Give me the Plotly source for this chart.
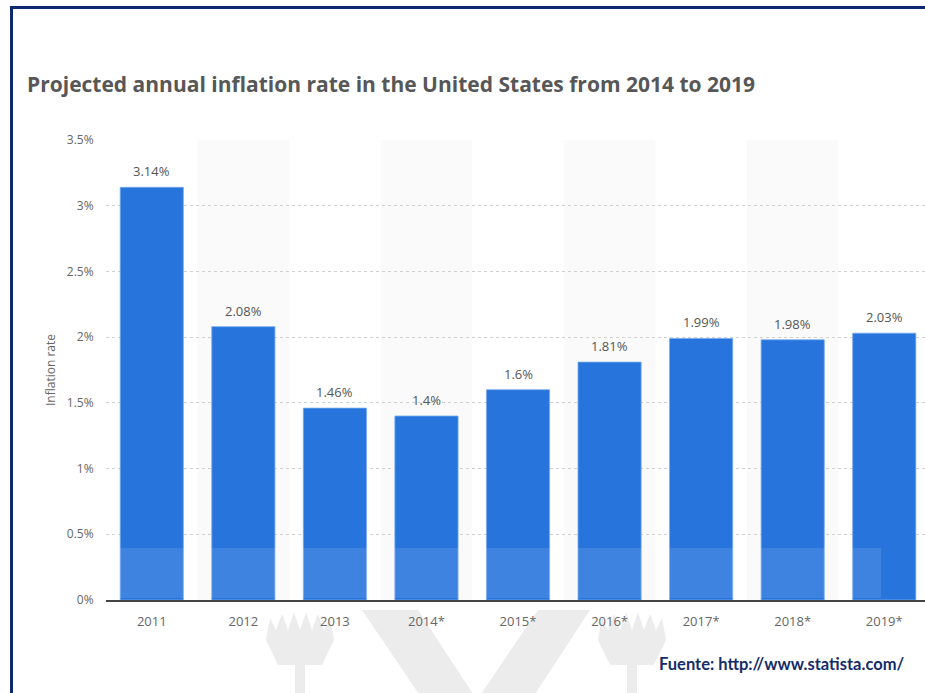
import plotly.graph_objects as go

# ---- data ----
categories = ["2011", "2012", "2013", "2014*", "2015*", "2016*", "2017*", "2018*", "2019*"]
values = [3.14, 2.08, 1.46, 1.4, 1.6, 1.81, 1.99, 1.98, 2.03]
labels = ["3.14%", "2.08%", "1.46%", "1.4%", "1.6%", "1.81%", "1.99%", "1.98%", "2.03%"]
y_ticks = [0, 0.5, 1, 1.5, 2, 2.5, 3, 3.5]
y_tick_text = ["0%", "0.5%", "1%", "1.5%", "2%", "2.5%", "3%", "3.5%"]

W, H = 925, 693
L, R, T, B = 106, 0, 140, 93
PW, PH = W - L - R, H - T - B


def px(x):
    return (x - L) / PW


def py(y):
    return (H - B - y) / PH


BAR = "#2775dc"
GREY = "#666666"

fig = go.Figure()
fig.add_trace(go.Bar(
    x=list(range(len(categories))), y=values,
    marker=dict(color=BAR, line=dict(color="rgba(120,170,240,0.8)", width=1)),
    width=0.69, hoverinfo="skip",
))

shapes = []
# alternating background bands
for i in range(len(categories)):
    if i % 2 == 1:
        shapes.append(dict(type="rect", xref="x", yref="paper", x0=i - 0.5, x1=i + 0.5,
                           y0=0, y1=1, fillcolor="#fafafa", line=dict(width=0), layer="below"))

# watermark logo (faint, below everything)
wm = "#ececec"
shapes.append(dict(type="path", xref="paper", yref="paper", layer="below",
                   path="M {} {} L {} {} L {} {} L {} {} L {} {} L {} {} L {} {} Z".format(
                       px(362), py(610), px(418), py(610), px(477), py(700), px(538), py(610),
                       px(590), py(610), px(505), py(740), px(450), py(740)),
                   fillcolor=wm, line=dict(width=0)))
for cx in (300, 632):
    # thistle head: spiky crown over a cup
    pts = [(cx - 34, 640), (cx - 30, 618), (cx - 24, 630), (cx - 18, 614), (cx - 12, 630),
           (cx - 6, 612), (cx, 630), (cx + 6, 612), (cx + 12, 630), (cx + 18, 614),
           (cx + 24, 630), (cx + 30, 618), (cx + 34, 640), (cx + 22, 665), (cx - 22, 665)]
    path = "M " + " L ".join("{} {}".format(px(a), py(b)) for a, b in pts) + " Z"
    shapes.append(dict(type="path", xref="paper", yref="paper", layer="below",
                       path=path, fillcolor=wm, line=dict(width=0)))
    shapes.append(dict(type="rect", xref="paper", yref="paper", layer="below",
                       x0=px(cx - 5), x1=px(cx + 5), y0=py(700), y1=py(665),
                       fillcolor=wm, line=dict(width=0)))

# translucent watermark overlay on bar bottoms
shapes.append(dict(type="rect", xref="paper", yref="paper", layer="above",
                   x0=px(110), x1=px(881), y0=py(598), y1=py(548),
                   fillcolor="rgba(255,255,255,0.10)", line=dict(width=0)))

# page border (navy, left and top)
shapes.append(dict(type="rect", xref="paper", yref="paper", layer="above",
                   x0=px(10), x1=px(13), y0=py(700), y1=py(6),
                   fillcolor="#0f2a6c", line=dict(width=0)))
shapes.append(dict(type="rect", xref="paper", yref="paper", layer="above",
                   x0=px(10), x1=px(930), y0=py(9), y1=py(6),
                   fillcolor="#0f2a6c", line=dict(width=0)))

annotations = []
for i, (v, t) in enumerate(zip(values, labels)):
    annotations.append(dict(x=i, y=v, xref="x", yref="y", text=t, showarrow=False,
                            yanchor="bottom", yshift=5,
                            font=dict(family="Open Sans", size=13, color="#555555")))

annotations.append(dict(x=px(25), y=py(84), xref="paper", yref="paper", xanchor="left",
                        yanchor="middle", showarrow=False,
                        text="<b>Projected annual inflation rate in the United States from 2014 to 2019</b>",
                        font=dict(family="Open Sans", size=21, color="#575757")))
annotations.append(dict(x=px(50), y=py(370), xref="paper", yref="paper", textangle=-90,
                        xanchor="center", yanchor="middle",
                        showarrow=False, text="Inflation rate",
                        font=dict(family="Open Sans", size=12, color=GREY)))
annotations.append(dict(x=px(906), y=py(664), xref="paper", yref="paper", xanchor="right",
                        yanchor="middle", showarrow=False,
                        text="<b>Fuente: http://www.statista.com/</b>",
                        font=dict(family="Lato", size=16.5, color="#152c6a")))

fig.update_layout(
    width=W, height=H,
    margin=dict(l=L, r=R, t=T, b=B, pad=0),
    paper_bgcolor="white", plot_bgcolor="rgba(0,0,0,0)",
    showlegend=False, bargap=0.31,
    shapes=shapes, annotations=annotations,
    xaxis=dict(
        tickmode="array", tickvals=list(range(len(categories))), ticktext=categories,
        range=[-0.5, 8.445], showgrid=False, zeroline=False,
        showline=True, linecolor="#444444", linewidth=1.5,
        ticks="outside", ticklen=9, tickcolor="rgba(0,0,0,0)",
        tickfont=dict(family="Open Sans", size=13, color=GREY), fixedrange=True,
    ),
    yaxis=dict(
        range=[0, 3.5], tickmode="array", tickvals=y_ticks, ticktext=y_tick_text,
        showgrid=True, gridcolor="#d0d0d0", griddash="dot", gridwidth=1,
        zeroline=False, showline=False,
        ticks="outside", ticklen=9, tickcolor="rgba(0,0,0,0)",
        tickfont=dict(family="Open Sans", size=12, color=GREY), fixedrange=True,
    ),
)

fig.write_html("out.html")
